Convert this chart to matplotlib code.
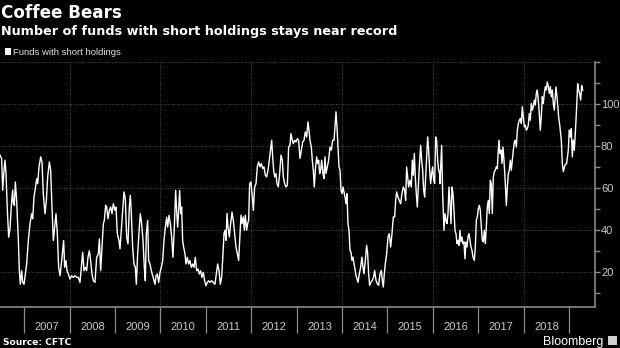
import matplotlib
matplotlib.use("Agg")
import matplotlib.pyplot as plt
from matplotlib.patches import Rectangle
from matplotlib.ticker import FixedLocator, FuncFormatter

# ---- data (decimal year of the weekly CFTC report, number of funds) ----
dates_2006_08 = [2006.465, 2006.502, 2006.524, 2006.553, 2006.575, 2006.597, 2006.627, 2006.656, 2006.685, 2006.722,
                 2006.744, 2006.759, 2006.781, 2006.803, 2006.832, 2006.869, 2006.891, 2006.913, 2006.942, 2006.964,
                 2006.994, 2007.023, 2007.052, 2007.089, 2007.126, 2007.162, 2007.185, 2007.214, 2007.243, 2007.273,
                 2007.295, 2007.324, 2007.361, 2007.390, 2007.419, 2007.456, 2007.486, 2007.515, 2007.552, 2007.581,
                 2007.610, 2007.640, 2007.669, 2007.698, 2007.728, 2007.757, 2007.787, 2007.816, 2007.845, 2007.867,
                 2007.889, 2007.919, 2007.941, 2007.970, 2008.007, 2008.044, 2008.080, 2008.117, 2008.154, 2008.190,
                 2008.227, 2008.264, 2008.286, 2008.315, 2008.345, 2008.374, 2008.403, 2008.433, 2008.462, 2008.491,
                 2008.521, 2008.557, 2008.594, 2008.631, 2008.653, 2008.682, 2008.712, 2008.741, 2008.763, 2008.792,
                 2008.815, 2008.844, 2008.873, 2008.903, 2008.932, 2008.961, 2008.998]
funds_2006_08 = [75.7, 74, 58.9, 68.5, 73.3, 66.9, 49.3, 36.5, 40.5, 54,
                 59, 52.5, 51.7, 62.9, 54, 34.9, 20.5, 14, 20.5, 14.9,
                 14, 18.9, 23.7, 34.9, 42.9, 47.7, 45.3, 55.7, 59.7, 64.5,
                 62.1, 70.1, 74.9, 72.5, 57.3, 47.7, 54, 65.3, 72.5, 68.5,
                 50.9, 34.9, 41.3, 47.7, 38.1, 22.1, 18.1, 23.7, 30.1, 34.9,
                 22.1, 25.3, 20.5, 18.9, 16.5, 18.1, 17.3, 18.1, 17.3, 17.3,
                 14.9, 23.7, 29.3, 20.5, 22.1, 20.5, 26.9, 30.1, 25.3, 18.9,
                 15.7, 14.9, 26.9, 28.5, 35.7, 20.5, 31.7, 42.9, 44.5, 51.7,
                 50.9, 45.3, 49.3, 50.9, 47.7, 52.5, 49.3]

dates_2009_11 = [2009.020, 2009.049, 2009.086, 2009.108, 2009.137, 2009.167, 2009.196, 2009.225, 2009.255, 2009.284,
                 2009.314, 2009.336, 2009.358, 2009.387, 2009.416, 2009.446, 2009.468, 2009.497, 2009.534, 2009.556,
                 2009.585, 2009.615, 2009.644, 2009.666, 2009.688, 2009.717, 2009.739, 2009.769, 2009.798, 2009.828,
                 2009.857, 2009.879, 2009.901, 2009.930, 2009.960, 2009.989, 2010.018, 2010.048, 2010.077, 2010.107,
                 2010.136, 2010.158, 2010.187, 2010.217, 2010.246, 2010.275, 2010.305, 2010.334, 2010.356, 2010.378,
                 2010.400, 2010.422, 2010.444, 2010.466, 2010.488, 2010.510, 2010.540, 2010.562, 2010.591, 2010.620,
                 2010.650, 2010.679, 2010.709, 2010.738, 2010.767, 2010.797, 2010.826, 2010.855, 2010.885, 2010.914,
                 2010.943, 2010.973, 2011.002, 2011.032, 2011.061, 2011.090, 2011.127, 2011.164, 2011.200, 2011.230,
                 2011.259, 2011.289, 2011.318]
funds_2009_11 = [50.9, 38.1, 34.9, 30.9, 39.7, 49.3, 58.1, 54.9, 36.5, 33.3,
                 50.9, 56.5, 47.7, 31.7, 23.7, 22.1, 14, 28.5, 41.3, 47.7,
                 42.9, 34.9, 22.1, 15.7, 38.1, 44.5, 25.3, 23.7, 20.5, 18.1,
                 15.7, 14, 18.1, 18.9, 14.9, 19.7, 22.1, 25.3, 34.9, 41.3,
                 46, 41.3, 46.9, 42.9, 36.5, 26.9, 41.3, 58.9, 49.3, 41.3,
                 49.3, 58.9, 47.7, 50.9, 34.9, 31.7, 28.5, 23.7, 26.9, 23.7,
                 25.3, 22.1, 23.7, 22.1, 26.9, 20.5, 21.3, 18.9, 20.5, 17.3,
                 19.7, 15.7, 13.3, 14.9, 15.7, 14.9, 15.7, 14.9, 14, 18.9,
                 23.7, 20.5, 14]

dates_2011_13 = [2011.347, 2011.369, 2011.399, 2011.421, 2011.443, 2011.465, 2011.487, 2011.516, 2011.546, 2011.575,
                 2011.604, 2011.634, 2011.663, 2011.692, 2011.722, 2011.751, 2011.773, 2011.795, 2011.825, 2011.847,
                 2011.869, 2011.898, 2011.920, 2011.942, 2011.964, 2011.993, 2012.023, 2012.045, 2012.074, 2012.104,
                 2012.133, 2012.162, 2012.192, 2012.221, 2012.250, 2012.280, 2012.309, 2012.339, 2012.368, 2012.397,
                 2012.427, 2012.449, 2012.471, 2012.493, 2012.515, 2012.544, 2012.566, 2012.595, 2012.625, 2012.654,
                 2012.684, 2012.706, 2012.735, 2012.764, 2012.794, 2012.823, 2012.852, 2012.874, 2012.904, 2012.926,
                 2012.955, 2012.985, 2013.014, 2013.043, 2013.073, 2013.102, 2013.132, 2013.161, 2013.190, 2013.220,
                 2013.249, 2013.271, 2013.293, 2013.322, 2013.344, 2013.366, 2013.388, 2013.410, 2013.440, 2013.462,
                 2013.484, 2013.506, 2013.528, 2013.550, 2013.579, 2013.601, 2013.623, 2013.645, 2013.675, 2013.704,
                 2013.734, 2013.763, 2013.792]
funds_2011_13 = [17.4, 25.4, 38.2, 39.8, 35, 47.8, 41.4, 36.6, 43, 48.5,
                 44.6, 38.2, 31.8, 28.6, 25.4, 38.2, 47, 43, 46.2, 39.8,
                 47, 39.8, 43, 44.6, 62.1, 62.9, 55.7, 49.3, 60.5, 62.1,
                 70.1, 72.5, 70.1, 71.7, 69.3, 70.1, 66.1, 65.3, 68.5, 73.3,
                 78.9, 82.8, 74.9, 68.5, 65.3, 66.9, 62.1, 60.5, 66.9, 75.7,
                 73.3, 65.3, 62.1, 60.5, 61.3, 79.6, 80.4, 86, 82.8, 81.2,
                 82.8, 82, 83.6, 82.8, 74.1, 78.1, 82, 82.8, 86.8, 84.4,
                 91.6, 87.6, 82.8, 79.6, 73.3, 68.5, 60.5, 68.5, 74.9, 71.7,
                 73.3, 66.9, 68.5, 73.3, 66.9, 64.5, 74.9, 66.9, 70.1, 73.3,
                 79.6, 78.1, 82.8]

dates_2013_16 = [2013.822, 2013.844, 2013.866, 2013.888, 2013.910, 2013.932, 2013.954, 2013.976, 2013.998, 2014.020,
                 2014.042, 2014.064, 2014.086, 2014.108, 2014.130, 2014.152, 2014.174, 2014.196, 2014.218, 2014.240,
                 2014.262, 2014.284, 2014.306, 2014.328, 2014.350, 2014.380, 2014.409, 2014.438, 2014.460, 2014.482,
                 2014.512, 2014.541, 2014.563, 2014.585, 2014.607, 2014.637, 2014.666, 2014.695, 2014.717, 2014.747,
                 2014.776, 2014.805, 2014.835, 2014.864, 2014.886, 2014.908, 2014.930, 2014.952, 2014.982, 2015.011,
                 2015.040, 2015.070, 2015.099, 2015.129, 2015.158, 2015.180, 2015.202, 2015.231, 2015.261, 2015.290,
                 2015.319, 2015.349, 2015.378, 2015.400, 2015.422, 2015.444, 2015.466, 2015.496, 2015.525, 2015.547,
                 2015.569, 2015.591, 2015.613, 2015.635, 2015.657, 2015.679, 2015.701, 2015.731, 2015.753, 2015.775,
                 2015.797, 2015.819, 2015.841, 2015.863, 2015.885, 2015.907, 2015.929, 2015.951, 2015.973, 2015.995,
                 2016.017, 2016.039, 2016.061, 2016.083, 2016.105, 2016.127, 2016.149]
funds_2013_16 = [82.8, 89.2, 96.4, 89.2, 79.6, 70.1, 68.5, 58.9, 57.3, 60.5,
                 58.1, 55.7, 52.5, 57.3, 43, 39.8, 30.2, 29.4, 25.4, 27,
                 23.8, 21.4, 18.2, 16.6, 15, 19, 22.2, 27, 22.2, 19,
                 25.4, 32.6, 28.6, 19, 13.5, 15, 15.9, 17.4, 20.6, 15.9,
                 14.3, 13.5, 19, 20.6, 15.9, 12.7, 19, 23.8, 28.6, 36.6,
                 38.2, 31.8, 38.2, 46.2, 46.2, 54.1, 58.1, 55.7, 54.1, 52.5,
                 57.3, 60.5, 58.9, 54.1, 70.1, 65.3, 60.5, 63.7, 60.5, 73.3,
                 66.1, 76.5, 65.3, 57.3, 50.9, 60.5, 70.1, 80.4, 73.3, 68.5,
                 58.9, 55.7, 65.3, 74.9, 84.4, 78.1, 68.5, 62.1, 66.9, 70.1,
                 63.7, 62.1, 84.4, 82.8, 73.3, 68.5, 66.9]

dates_2016_19 = [2016.156, 2016.193, 2016.215, 2016.245, 2016.267, 2016.289, 2016.311, 2016.333, 2016.355, 2016.377,
                 2016.399, 2016.421, 2016.443, 2016.465, 2016.487, 2016.509, 2016.531, 2016.553, 2016.575, 2016.597,
                 2016.619, 2016.641, 2016.663, 2016.685, 2016.707, 2016.729, 2016.751, 2016.773, 2016.795, 2016.817,
                 2016.839, 2016.861, 2016.883, 2016.913, 2016.935, 2016.957, 2016.979, 2017.001, 2017.023, 2017.045,
                 2017.067, 2017.089, 2017.111, 2017.133, 2017.155, 2017.177, 2017.199, 2017.221, 2017.243, 2017.265,
                 2017.287, 2017.309, 2017.331, 2017.353, 2017.375, 2017.397, 2017.419, 2017.441, 2017.456, 2017.478,
                 2017.500, 2017.522, 2017.544, 2017.566, 2017.588, 2017.618, 2017.640, 2017.662, 2017.684, 2017.706,
                 2017.728, 2017.750, 2017.772, 2017.794, 2017.816, 2017.838, 2017.860, 2017.882, 2017.904, 2017.926,
                 2017.948, 2017.970, 2017.992, 2018.014, 2018.036, 2018.058, 2018.080, 2018.102, 2018.124, 2018.146,
                 2018.168, 2018.190, 2018.212, 2018.234, 2018.256, 2018.278, 2018.300, 2018.322, 2018.344, 2018.366,
                 2018.388, 2018.410, 2018.432, 2018.454, 2018.477, 2018.499, 2018.521, 2018.543, 2018.565, 2018.587,
                 2018.609, 2018.631, 2018.653, 2018.675, 2018.711, 2018.741, 2018.770, 2018.799, 2018.829, 2018.851,
                 2018.873, 2018.910, 2018.946, 2018.983, 2019.005, 2019.027, 2019.049, 2019.071, 2019.093, 2019.115,
                 2019.137, 2019.167, 2019.189, 2019.211, 2019.233, 2019.255, 2019.277, 2019.299]
funds_2016_19 = [62.1, 80.4, 57.3, 39.8, 47.8, 44.6, 43, 47.8, 60.5, 52.5,
                 43, 60.5, 57.3, 49.3, 39.8, 38.2, 33.4, 35, 32.6, 39.8,
                 34.2, 36.6, 33.4, 34.2, 26.2, 34.2, 31.8, 36.6, 38.2, 35,
                 31.8, 30.2, 27, 25.4, 31.8, 44.6, 46.2, 50.1, 51.7, 49.3,
                 41.4, 35, 34.2, 39.8, 33.4, 41.4, 51, 54.1, 47.8, 63.7,
                 62.1, 47.8, 65.3, 67.7, 68.5, 70.1, 69.3, 78.1, 82.8, 76.5,
                 78.1, 71.7, 79.6, 73.3, 65.3, 51.7, 60.5, 66.9, 68.5, 73.3,
                 68.5, 73.3, 78.1, 82, 82.8, 79.6, 87.6, 90.8, 92.4, 93.2,
                 90.8, 98.8, 94, 89.2, 90, 87.6, 88.4, 90, 95.6, 92.4,
                 100.4, 97.2, 98.8, 102, 99.6, 105.2, 106.8, 102, 95.6, 87.6,
                 94, 103.6, 100.4, 105.2, 108.4, 106.8, 110.7, 108.4, 105.2, 108.4,
                 103.6, 106.8, 100.4, 97.2, 108.3, 101.9, 94, 89.2, 82.9, 71.7,
                 67.8, 71, 71.7, 78, 87.6, 84.4, 88.4, 74.9, 82.9, 78,
                 86, 98.7, 109.8, 106.7, 105.1, 101.9, 109, 106.7]

years = list(range(2007, 2020))
year_labels = [str(y) for y in range(2007, 2019)]
y_labels = [20, 40, 60, 80, 100]

dates = dates_2006_08 + dates_2009_11 + dates_2011_13 + dates_2013_16 + dates_2016_19
funds = funds_2006_08 + funds_2009_11 + funds_2011_13 + funds_2013_16 + funds_2016_19
assert len(dates) == len(funds), (len(dates), len(funds))

# ---- figure ----
W, H = 620, 348
fig = plt.figure(figsize=(W / 100, H / 100), dpi=100, facecolor='black')
ax = fig.add_axes([0, 1 - 306.7 / H, 595 / W, (306.7 - 62) / H])
ax.set_facecolor('black')

grid_c = '#4a4a4a'
ax.plot(dates, funds, color='white', lw=1.0, zorder=3, solid_joinstyle='round')
ax.set_xlim(2006.465, 2019.571)
ax.set_ylim(3.3, 120.2)

# horizontal / vertical dotted gridlines
for v in range(20, 121, 20):
    ax.axhline(v, color=grid_c, lw=0.7, ls=(0, (1, 1.5)), zorder=1)
for yr in range(2008, 2019, 2):
    ax.axvline(yr, color=grid_c, lw=0.7, ls=(0, (1, 1.5)), zorder=1)

# spines
for s in ['left', 'top']:
    ax.spines[s].set_visible(False)
for s in ['right', 'bottom']:
    ax.spines[s].set_color('#8a8a8a')
    ax.spines[s].set_linewidth(1.2)

# y axis on right
ax.yaxis.tick_right()
ax.yaxis.set_major_locator(FixedLocator(list(range(20, 121, 20))))
ax.yaxis.set_minor_locator(FixedLocator(list(range(10, 120, 20))))
ax.yaxis.set_major_formatter(FuncFormatter(lambda v, p: str(int(v)) if int(v) in y_labels else ''))
ax.tick_params(axis='y', which='both', colors='#8a8a8a', labelcolor='#c8c8c8', length=3.5, width=1.0,
               labelsize=8, pad=0.8)

# x axis: long ticks at year boundaries, labels centred in each year
ax.xaxis.set_major_locator(FixedLocator(years))
ax.xaxis.set_major_formatter(FuncFormatter(lambda v, p: ''))
ax.xaxis.set_minor_locator(FixedLocator([y + 0.5 for y in range(2007, 2019)]))
ax.xaxis.set_minor_formatter(FuncFormatter(lambda v, p: year_labels[int(v) - 2007]))
ax.tick_params(axis='x', which='major', colors='#8a8a8a', length=19, width=0.9)
ax.tick_params(axis='x', which='minor', length=0, labelcolor='#c8c8c8', labelsize=8, pad=11)

for lab in ax.get_xticklabels(minor=True) + ax.get_yticklabels():
    lab.set_fontfamily('Liberation Sans')

# ---- texts ----
fig.text(1 / W, 1 - 18.5 / H, 'Coffee Bears', color='white', fontsize=12.1, fontweight='bold',
         family='DejaVu Sans', va='baseline', ha='left')
fig.text(1 / W, 1 - 35.5 / H, 'Number of funds with short holdings stays near record', color='white',
         fontsize=9.15, fontweight='bold', family='DejaVu Sans', va='baseline', ha='left')
fig.patches.append(Rectangle((4.5 / W, 1 - 54.5 / H), 6 / W, 6 / H, transform=fig.transFigure,
                             facecolor='white', edgecolor='none'))
fig.text(13 / W, 1 - 55 / H, 'Funds with short holdings', color='#e0e0e0', fontsize=6.8,
         family='Liberation Sans', va='baseline', ha='left')
fig.text(3 / W, 1 - 345 / H, 'Source: CFTC', color='white', fontsize=6.6, fontweight='bold',
         family='DejaVu Sans', va='baseline', ha='left')
fig.text(603 / W, 1 - 345 / H, 'Bloomberg', color='white', fontsize=9, family='Liberation Sans',
         va='baseline', ha='right')
fig.patches.append(Rectangle((608 / W, 1 - 345 / H), 9 / W, 9 / H, transform=fig.transFigure,
                             facecolor='#d0d0d0', edgecolor='none'))

fig.savefig('out.png', dpi=100, facecolor='black')
